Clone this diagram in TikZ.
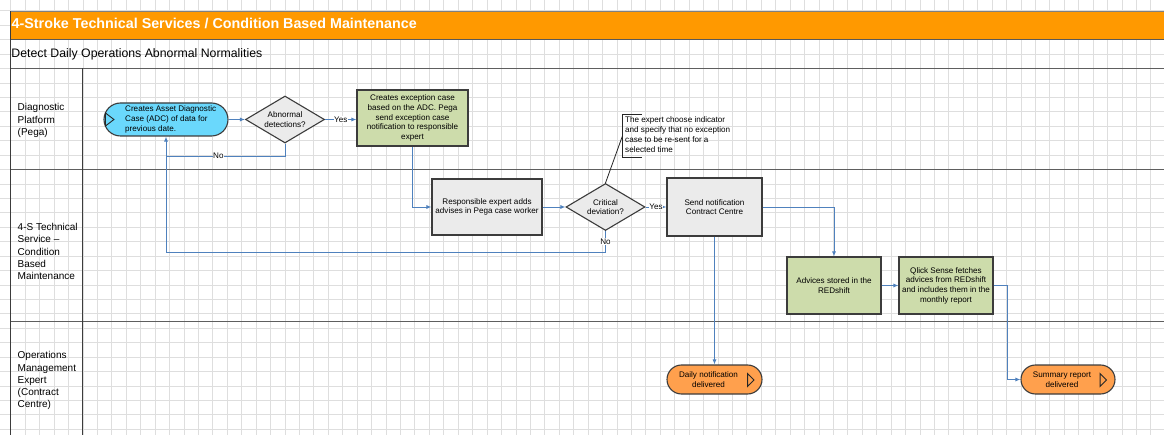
\documentclass[tikz,border=0pt]{standalone}
\usepackage{fontspec}
\setmainfont{Liberation Sans}
\usetikzlibrary{shapes.geometric,shapes.misc,arrows.meta,calc}

\definecolor{hdrorange}{HTML}{FF9900}
\definecolor{gridgray}{HTML}{DEDEDE}
\definecolor{lanegray}{HTML}{5E5E5E}
\definecolor{edgegray}{HTML}{3C3C3C}
\definecolor{flowblue}{HTML}{4F81BD}
\definecolor{startcyan}{HTML}{6AD8FC}
\definecolor{taskgreen}{HTML}{CDDCAB}
\definecolor{taskgray}{HTML}{EBEBEB}
\definecolor{endorange}{HTML}{FFA04D}

\tikzset{
  txt/.style={font=\fontsize{8.1}{9.7}\selectfont, align=center},
  task/.style={draw=edgegray, line width=1.1pt, txt, inner sep=1pt},
  greentask/.style={task, fill=taskgreen},
  graytask/.style={task, fill=taskgray},
  decision/.style={diamond, draw=edgegray, line width=1.1pt, fill=taskgray, txt,
    inner sep=0pt, aspect=1.68, minimum width=79pt, minimum height=47pt},
  terminal/.style={rounded rectangle, draw=edgegray, line width=1.1pt, inner sep=0pt},
  flow/.style={draw=flowblue, line width=0.9pt, -{Latex[length=5pt,width=4pt]}},
  flowline/.style={draw=flowblue, line width=0.9pt},
  lbl/.style={font=\fontsize{8.1}{9.7}\selectfont, fill=white, inner sep=0.6pt},
  lane/.style={draw=lanegray, line width=1.5pt},
  lanetitle/.style={font=\fontsize{10}{12.2}\selectfont, align=left, inner sep=0pt, anchor=north west},
  playmark/.style={draw=black!85, line width=0.9pt, line join=miter},
  notemark/.style={draw=black!85, line width=0.8pt},
}

\begin{document}
\begin{tikzpicture}[x=1pt,y=-1pt]
\useasboundingbox (0,0) rectangle (1164,435);
\fill[white] (0,0) rectangle (1164,435);

% background drawing grid
\foreach \k in {0,...,79}
  \draw[gridgray, line width=0.8pt] ({10.85+14.43*\k},0) -- ({10.85+14.43*\k},435);
\foreach \k in {0,...,29}
  \draw[gridgray, line width=0.8pt] (0,{10.85+14.43*\k}) -- (1164,{10.85+14.43*\k});

% pool header
\fill[hdrorange] (10.5,11.5) rectangle (1164,39.3);
\draw[draw=black!50, line width=1pt] (10.5,11.5) -- (1164,11.5);
\draw[draw=black!65, line width=1.2pt] (10.5,39.3) -- (1164,39.3);
\node[anchor=base west, inner sep=0pt, text=white, font=\fontsize{14.3}{16}\selectfont\bfseries]
  (title) at (11.5,29) {4-Stroke Technical Services / Condition Based Maintenance};
\node[anchor=base west, inner sep=0pt, font=\fontsize{12.3}{14}\selectfont]
  (subtitle) at (11.3,57.3) {Detect Daily Operations Abnormal Normalities};

% pool and lane borders
\draw[lane] (10.5,68.5) -- (1164,68.5);
\draw[lane] (10.5,169.6) -- (1164,169.6);
\draw[lane] (10.5,321.6) -- (1164,321.6);
\draw[draw=edgegray, line width=1.2pt] (10.5,11.5) -- (10.5,435);
\draw[draw=edgegray, line width=1.2pt] (82.7,68.5) -- (82.7,435);

% lane titles
\node[lanetitle] (laneA) at (17.5,103.4) {Diagnostic\\Platform\\(Pega)};
\node[lanetitle] (laneB) at (17.5,223.3) {4-S Technical\\Service --\\Condition\\Based\\Maintenance};
\node[lanetitle] (laneC) at (17.5,351.5) {Operations\\Management\\Expert\\(Contract\\Centre)};

% start event
\node[terminal, fill=startcyan, minimum width=124pt, minimum height=33pt] (start) at (166,119.5) {};
\node[txt, align=left, anchor=west, inner sep=0pt] (startText) at (125,119.5)
  {Creates Asset Diagnostic\\Case (ADC) of data for\\previous date.};
\draw[playmark] ($(start.west)+(2,-6.5)$) -- ($(start.west)+(10.5,0)$) -- ($(start.west)+(2,6.5)$) -- cycle;

% tasks and decisions
\node[decision] (d1) at (285,119.5) {Abnormal\\detections?};
\node[greentask, minimum width=111pt, minimum height=56pt] (g1) at (412.5,118)
  {Creates exception case\\based on the ADC. Pega\\send exception case\\notification to responsible\\expert};
\node[graytask, minimum width=110pt, minimum height=56pt] (r1) at (487,207)
  {Responsible expert adds\\advises in Pega case worker};
\node[decision] (d2) at (605.5,207) {Critical\\deviation?};
\node[graytask, minimum width=95pt, minimum height=58pt] (s1) at (714.5,207)
  {Send notification\\Contract Centre};
\node[greentask, minimum width=94pt, minimum height=57pt] (a1) at (834,285.5)
  {Advices stored in the\\REDshift};
\node[greentask, minimum width=94pt, minimum height=57pt] (q1) at (946,285.5)
  {Qlick Sense fetches\\advices from REDshift\\and includes them in the\\monthly report};

% end events
\node[terminal, fill=endorange, minimum width=95pt, minimum height=29pt] (daily) at (714.5,379.5) {};
\node[txt] (dailyText) at ($(daily.center)+(-6,0)$) {Daily notification\\delivered};
\draw[playmark] ($(daily.east)+(-15,-6)$) -- ($(daily.east)+(-8.5,0.5)$) -- ($(daily.east)+(-15,7)$) -- cycle;
\node[terminal, fill=endorange, minimum width=94pt, minimum height=29pt] (sum) at (1068,379.5) {};
\node[txt] (sumText) at ($(sum.center)+(-6,0)$) {Summary report\\delivered};
\draw[playmark] ($(sum.east)+(-15.5,-6)$) -- ($(sum.east)+(-9,0.5)$) -- ($(sum.east)+(-15.5,7)$) -- cycle;

% annotation
\node[align=left, anchor=north west, inner sep=0pt, font=\fontsize{8.1}{10}\selectfont] (note) at (625,116.6)
  {The expert choose indicator\\and specify that no exception\\case to be re-sent for a\\selected time};
\draw[notemark] (641.7,114) -- (622.7,114) -- (622.7,157.3) -- (641.7,157.3);
\coordinate (noteHook) at (622.2,136.6);
\draw[notemark] (d2.north) -- (noteHook);

% flow connectors
\coordinate (noA) at (166,156);
\coordinate (noB) at (166,252.3);
\coordinate (qbend) at (1007.3,379.5);
\draw[flow] (start.east) -- (d1.west);
\draw[flow] (d1.east) -- node[lbl]{Yes} (d1.east -| g1.west);
\draw[flowline] (d1.south) |- node[lbl, pos=0.78]{No} (noA);
\draw[flow] (d2.south) |- node[lbl, pos=0.25]{No} (noB) -- (start.south);
\draw[flow] (g1.south) |- (r1.west);
\draw[flow] (r1.east) -- (d2.west);
\draw[flow] (d2.east) -- node[lbl]{Yes} (s1.west);
\draw[flow] (s1.east) -| (a1.north);
\draw[flow] (s1.south) -- (daily.north);
\draw[flow] (a1.east) -- (q1.west);
\draw[flow] (q1.east) -| (qbend) -- (sum.west);
\end{tikzpicture}
\end{document}
